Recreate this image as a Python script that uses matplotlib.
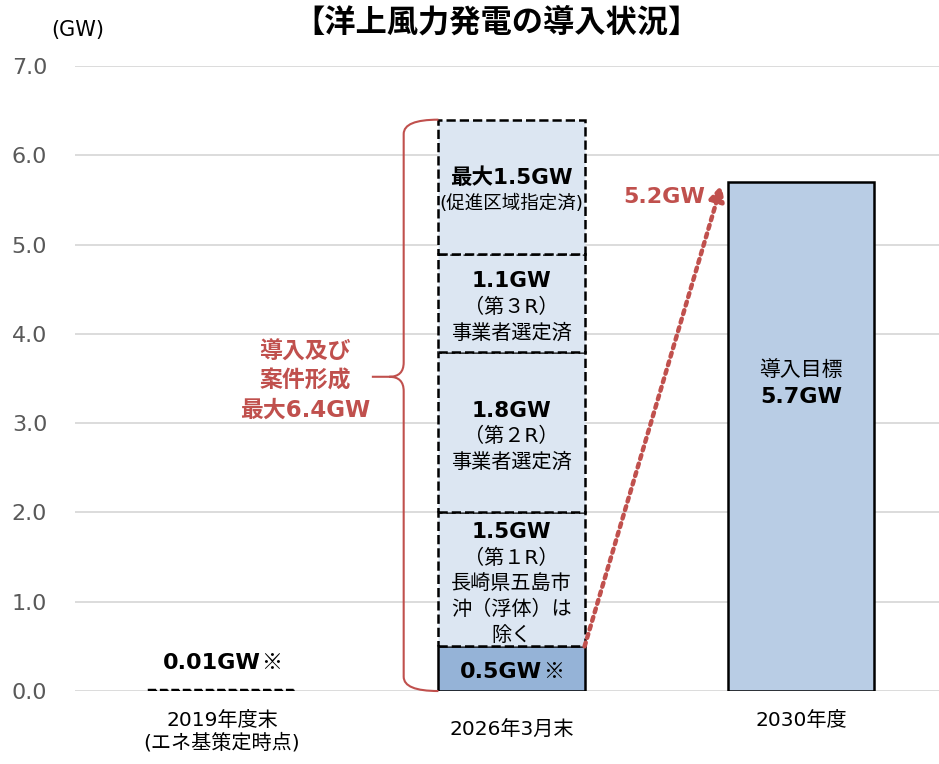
import matplotlib.pyplot as plt
from matplotlib.path import Path
from matplotlib.patches import PathPatch
from matplotlib.transforms import offset_copy

# Latin glyphs from DejaVu (Verdana-like, as in Meiryo), CJK falls back to Noto
plt.rcParams['font.family'] = ['DejaVu Sans', 'Noto Sans CJK JP']

# data (GW)
categories = ['2019年度末\n(エネ基策定時点)', '2026年3月末', '2030年度']
value_2019 = 0.01
stack_2026 = [0.5, 1.5, 1.8, 1.1, 1.5]
stack_heads = ['0.5GW', '1.5GW', '1.8GW', '1.1GW', '最大1.5GW']
stack_notes = [[],
               ['（第１R）', '長崎県五島市', '沖（浮体）は', '除く'],
               ['（第２R）', '事業者選定済'],
               ['（第３R）', '事業者選定済'],
               ['(促進区域指定済)']]
target_2030 = 5.7

red = '#c0504d'
w = 0.505


def bold_with_mark(x, y, s, **kw):
    # bold value followed by a lighter ※ mark, centred as a whole
    t = ax.text(x, y, s, ha='center', va='center', fontsize=16, fontweight='bold', **kw)
    m = ax.annotate('※', xy=(1, 0.5), xycoords=t, xytext=(0.5, 0), textcoords='offset points',
                    ha='left', va='center', fontsize=15, fontweight='medium',
                    family=['Noto Sans CJK JP'], **kw)
    fig.canvas.draw()
    mw = m.get_window_extent().width
    t.set_transform(offset_copy(ax.transData, fig=fig, x=-mw / 2, units='dots'))


fig = plt.figure(figsize=(9.39, 7.64), dpi=100)
ax = fig.add_axes([0.0799, 0.0955, 0.9201, 0.818])
ax.set_xlim(-0.508, 2.477)
ax.set_ylim(0, 7)
ax.set_yticks([0, 1, 2, 3, 4, 5, 6, 7])
ax.set_yticklabels([f'{v:.1f}' for v in range(8)], color='#595959', fontsize=16)
ax.tick_params(axis='y', length=0, pad=20)
ax.set_xticks([])
for s in ax.spines.values():
    s.set_visible(False)
ax.grid(axis='y', color='#d9d9d9', lw=1.3, zorder=0)
ax.set_axisbelow(True)

# 2019: tiny value drawn as a dashed line
ax.bar(0, value_2019, width=w, fill=False, edgecolor='black', linestyle=(0, (2.2, 1.1)), lw=2.5, zorder=3)
bold_with_mark(0, 0.31, f'{value_2019}GW')

# 2026 stacked bar
bottom = 0
for i, (h, head, notes) in enumerate(zip(stack_2026, stack_heads, stack_notes)):
    if i == 0:
        ax.bar(1, h, bottom=bottom, width=w, color='#95b3d7', edgecolor='black', lw=1.8, zorder=3)
        bold_with_mark(1, bottom + h / 2 - 0.04, head, zorder=4)
    else:
        ax.bar(1, h, bottom=bottom, width=w, color='#dce6f2', edgecolor='black', linestyle='--', lw=1.8, zorder=3)
        pitch = 0.29
        c = bottom + h / 2 - 0.05
        head_y = c + len(notes) * pitch / 2
        ax.text(1, head_y, head, ha='center', va='center', fontsize=15.5, fontweight='bold', zorder=4)
        for j, line in enumerate(notes):
            fs = 13.3 if line.startswith('(') else 14.5
            ax.text(1, head_y - (j + 1) * pitch, line, ha='center', va='center', fontsize=fs, zorder=4)
    bottom += h
total_2026 = bottom

# 2030 target
ax.bar(2, target_2030, width=w, color='#b9cde5', edgecolor='black', lw=1.8, zorder=3)
ax.text(2, 3.6, '導入目標', ha='center', va='center', fontsize=15)
ax.text(2, 3.29, f'{target_2030}GW', ha='center', va='center', fontsize=16, fontweight='bold')

# dotted arrow from the 0.5GW top to the target
ax.annotate('', xy=(2 - w / 2 - 0.022, target_2030 - 0.03), xytext=(1 + w / 2, stack_2026[0]),
            arrowprops=dict(arrowstyle='-|>,head_length=0.9,head_width=0.45', color=red,
                            lw=3.2, linestyle=(0, (0.9, 1.1)), shrinkA=0, shrinkB=0), zorder=5)
ax.text(1.668, 5.53, f'{target_2030 - stack_2026[0]:.1f}GW', ha='right', va='center',
        fontsize=16, fontweight='bold', color=red)

# curly brace beside the 2026 bar
xe = 1 - w / 2
xv = xe - 0.12
rx, ry = 0.05, 0.16
mid = 3.52
top = total_2026
verts = [(xe, top), (xv, top), (xv, top - ry), (xv, mid + ry), (xv, mid), (xv - rx, mid),
         (xv - 0.11, mid), (xv - rx, mid), (xv, mid), (xv, mid - ry), (xv, ry), (xv, 0), (xe, 0)]
codes = [Path.MOVETO, Path.CURVE3, Path.CURVE3, Path.LINETO, Path.CURVE3, Path.CURVE3,
         Path.LINETO, Path.MOVETO, Path.CURVE3, Path.CURVE3, Path.LINETO, Path.CURVE3, Path.CURVE3]
ax.add_patch(PathPatch(Path(verts, codes), fill=False, edgecolor=red, lw=1.5, zorder=4, clip_on=False))
ax.text(0.287, 3.47, f'導入及び\n案件形成\n最大{total_2026:.1f}GW', ha='center', va='center',
        fontsize=16.5, fontweight='bold', color=red, linespacing=1.33)

# category labels
tr = ax.get_xaxis_transform()
label_y = [-0.032, -0.047, -0.032]
for i, (cat, ly) in enumerate(zip(categories, label_y)):
    ax.text(i, ly, cat, transform=tr, ha='center', va='top', fontsize=14.5, linespacing=1.15)

fig.text(0.083, 0.961, '(GW)', ha='center', va='center', fontsize=15)
fig.text(0.529, 0.971, '【洋上風力発電の導入状況】', ha='center', va='center', fontsize=22.5, fontweight='bold')

fig.savefig('out.png', dpi=100)
